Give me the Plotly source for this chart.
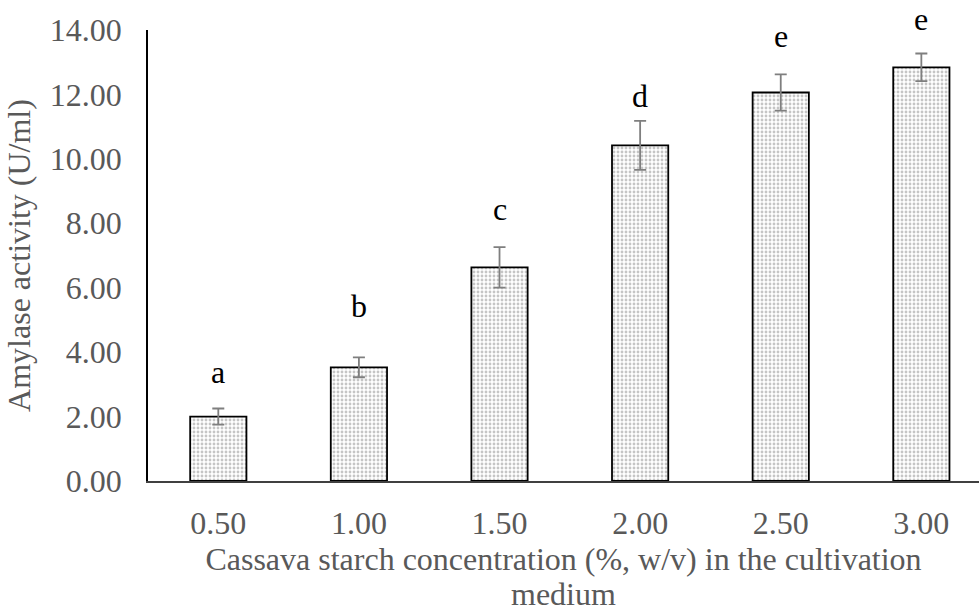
import plotly.graph_objects as go

categories = ["0.50", "1.00", "1.50", "2.00", "2.50", "3.00"]
activity = [2.00, 3.53, 6.63, 10.42, 12.06, 12.84]
errors = [0.25, 0.31, 0.63, 0.76, 0.56, 0.43]
letters = ["a", "b", "c", "d", "e", "e"]
letter_y = [3.38, 5.43, 8.45, 11.95, 13.8, 14.33]
y_ticks = [0, 2, 4, 6, 8, 10, 12, 14]
Y_MAX = 14

FONT = "Liberation Serif, Times New Roman, serif"
GRAY = "#595959"

fig = go.Figure()
fig.add_trace(go.Bar(
    x=categories, y=activity, width=0.4,
    marker=dict(
        color="white",
        line=dict(color="black", width=1.8),
        pattern=dict(shape=".", fgcolor="#8c8c8c", bgcolor="white", size=4, solidity=0.4),
    ),
    error_y=dict(type="data", array=errors, visible=True, color="#7f7f7f", thickness=1.8, width=6),
    showlegend=False,
))

for i, (t, yy) in enumerate(zip(letters, letter_y)):
    fig.add_annotation(x=i, xref="x", y=yy / Y_MAX, yref="paper", text=t, showarrow=False,
                       yanchor="middle", font=dict(family=FONT, size=32, color="black"))

fig.add_annotation(xref="paper", yref="paper", x=0.5, y=0, yshift=-113, text="medium",
                   showarrow=False, yanchor="middle",
                   font=dict(family=FONT, size=32, color=GRAY))

fig.update_layout(
    width=979, height=611,
    margin=dict(l=148, r=0, t=30, b=130),
    plot_bgcolor="white", paper_bgcolor="white",
    font=dict(family=FONT, size=32, color=GRAY),
    xaxis=dict(
        type="category", range=[-0.5, 5.41],
        showline=True, linecolor="#404040", linewidth=1.5,
        ticks="", ticklabelstandoff=13,
        tickfont=dict(family=FONT, size=32, color=GRAY),
        title=dict(text="Cassava starch concentration (%, w/v) in the cultivation",
                   font=dict(family=FONT, size=32, color=GRAY), standoff=7),
    ),
    yaxis=dict(
        range=[0, Y_MAX], tickvals=y_ticks, tickformat=".2f",
        showline=True, linecolor="black", linewidth=1.5,
        showgrid=False, zeroline=False, ticks="", ticklabelstandoff=18,
        tickfont=dict(family=FONT, size=32, color=GRAY),
        title=dict(text="Amylase activity (U/ml)",
                   font=dict(family=FONT, size=32, color=GRAY), standoff=10),
    ),
)

fig.write_html("out.html")
